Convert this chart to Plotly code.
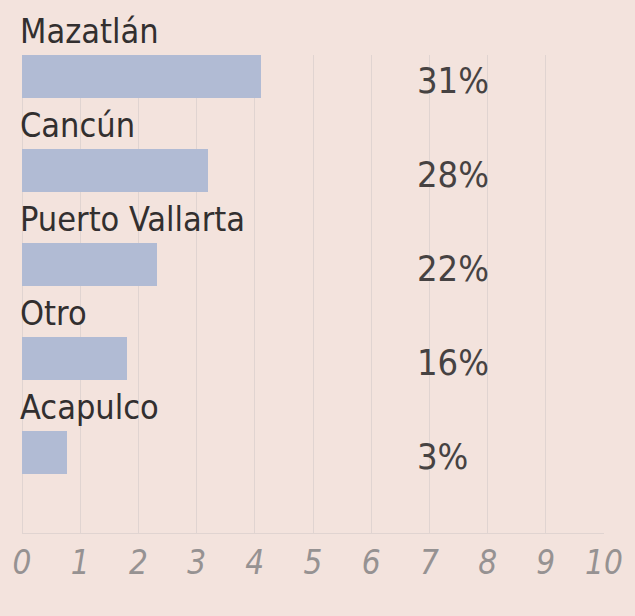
import plotly.graph_objects as go

categories = ["Mazatlán", "Cancún", "Puerto Vallarta", "Otro", "Acapulco"]
values = [4.1, 3.2, 2.32, 1.8, 0.77]
pct_labels = ["31%", "28%", "22%", "16%", "3%"]
tick_vals = list(range(0, 11))
tick_text = [str(v) for v in tick_vals]

BG = "rgb(243,227,221)"
BAR = "rgb(177,187,212)"
GRID = "rgb(224,212,209)"
FONT = "Liberation Sans Narrow, DejaVu Sans Condensed, Roboto, Liberation Sans, sans-serif"

ypos = list(range(len(categories)))

fig = go.Figure()
fig.add_trace(go.Bar(
    x=values, y=ypos, orientation="h",
    marker=dict(color=BAR, line=dict(width=0)),
    width=0.46, hoverinfo="skip",
))

annotations = []
for i, (c, p) in enumerate(zip(categories, pct_labels)):
    annotations.append(dict(
        x=0, y=i, xref="x", yref="y", text=c, showarrow=False,
        xanchor="left", yanchor="middle", xshift=-4, yshift=46,
        font=dict(family=FONT, size=34, color="rgb(50,47,47)"),
    ))
    annotations.append(dict(
        x=6.75, y=i, xref="x", yref="y", text=p, showarrow=False,
        xanchor="left", yanchor="middle", yshift=-4,
        font=dict(family=FONT, size=36, color="rgb(70,66,66)"),
    ))

fig.update_layout(
    width=635, height=616,
    paper_bgcolor=BG, plot_bgcolor=BG,
    margin=dict(l=22, r=24, t=55, b=83),
    showlegend=False,
    annotations=annotations,
    bargap=0,
)
fig.update_xaxes(
    range=[0, 10], tickvals=tick_vals, ticktext=tick_text,
    showgrid=True, gridcolor=GRID, gridwidth=1,
    zeroline=True, zerolinecolor=GRID, zerolinewidth=1,
    showline=True, linecolor=GRID, linewidth=1,
    ticks="", ticklabelstandoff=0,
    tickfont=dict(family=FONT, size=33, color="rgb(150,146,146)", style="italic"),
    fixedrange=True,
)
fig.update_yaxes(
    range=[4.856, -0.229], showticklabels=False, showgrid=False,
    zeroline=False, showline=False, fixedrange=True,
)

fig.write_html(
    "out.html",
    config={"displayModeBar": False},
    post_script="document.body.style.margin='0';document.body.style.background='" + BG + "';",
)
